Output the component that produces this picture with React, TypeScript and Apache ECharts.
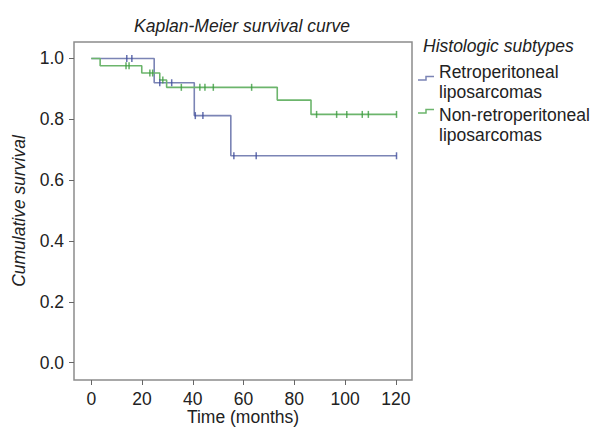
import React, { useEffect, useRef } from "react";
import * as echarts from "echarts";

const xTicks = [0, 20, 40, 60, 80, 100, 120];
const yTicks = [0, 0.2, 0.4, 0.6, 0.8, 1.0];

// Kaplan-Meier step points [time, survival] (drop happens at time)
const retroCurve: [number, number][] = [
  [0, 1.0],
  [24.8, 0.92],
  [40.6, 0.812],
  [55.0, 0.68],
  [120.3, 0.68],
];
const retroCensor: [number, number][] = [
  [14, 1.0], [16, 1.0],
  [27, 0.92], [31.7, 0.92],
  [41, 0.812], [44, 0.812],
  [56.2, 0.68], [65, 0.68], [120.3, 0.68],
];

const nonRetroCurve: [number, number][] = [
  [0, 1.0],
  [3.5, 0.976],
  [19.9, 0.952],
  [27, 0.929],
  [29.7, 0.905],
  [73.3, 0.863],
  [86.6, 0.816],
  [120.3, 0.816],
];
const nonRetroCensor: [number, number][] = [
  [13.7, 0.976], [14.9, 0.976],
  [23.1, 0.952], [24.2, 0.952],
  [28.2, 0.929],
  [35.5, 0.905], [42.8, 0.905], [44.8, 0.905], [48.1, 0.905], [63.2, 0.905],
  [88.8, 0.816], [96.7, 0.816], [100.7, 0.816], [106.8, 0.816], [109.2, 0.816], [120.3, 0.816],
];

const seriesNames = ["Retroperitoneal\nliposarcomas", "Non-retroperitoneal\nliposarcomas"];
const lineColors = ["#7b84b5", "#6cb56c"];
const markColors = ["#3f4c9c", "#3c9c40"];

const FONT = "Liberation Sans, Arial, Helvetica, sans-serif";
const FS = 17.5;

export default function App() {
  const ref = useRef<HTMLDivElement>(null);
  useEffect(() => {
    if (!ref.current) return;
    const chart = echarts.init(ref.current, null, { renderer: "svg" });
    const legendX = 418;
    const textX = 439;
    chart.setOption({
      animation: false,
      backgroundColor: "#ffffff",
      title: {
        text: "Kaplan-Meier survival curve",
        left: 237,
        top: 12,
        textAlign: "center",
        textStyle: { fontFamily: FONT, fontSize: FS, fontStyle: "italic", fontWeight: "normal", color: "#222" },
      },
      grid: {
        left: 74,
        right: 179,
        top: 42,
        bottom: 47,
        containLabel: false,
        outerBoundsMode: "none",
        show: true,
        borderColor: "#8c8c8c",
        borderWidth: 1.5,
        backgroundColor: "transparent",
      },
      xAxis: {
        type: "value",
        min: -6.8,
        max: 126.4,
        name: "Time (months)",
        nameLocation: "middle",
        nameGap: 29,
        nameMoveOverlap: false,
        nameTextStyle: { fontFamily: FONT, fontSize: FS, lineHeight: 16, color: "#222" },
        axisLine: { show: false, onZero: false },
        splitLine: { show: false },
        axisTick: { show: true, inside: false, length: 5, lineStyle: { color: "#666" }, customValues: xTicks },
        axisLabel: { fontFamily: FONT, fontSize: FS, lineHeight: 17, color: "#222", margin: 10, customValues: xTicks, formatter: (v: number) => String(v) },
      },
      yAxis: {
        type: "value",
        min: -0.057,
        max: 1.054,
        name: "Cumulative survival",
        nameLocation: "middle",
        nameGap: 46,
        nameMoveOverlap: false,
        nameTextStyle: { fontFamily: FONT, fontSize: FS, fontStyle: "italic", color: "#222" },
        axisLine: { show: false, onZero: false },
        splitLine: { show: false },
        axisTick: { show: true, inside: false, length: 5, lineStyle: { color: "#666" }, customValues: yTicks },
        axisLabel: { fontFamily: FONT, fontSize: FS, color: "#222", margin: 10, customValues: yTicks, formatter: (v: number) => v.toFixed(1) },
      },
      graphic: [
        { type: "text", left: 423, top: 37, style: { text: "Histologic subtypes", font: `italic ${FS}px ${FONT}`, fill: "#222" } },
        { type: "polyline", shape: { points: [[legendX, 80], [legendX + 8, 80], [legendX + 8, 76.5], [legendX + 16, 76.5]] }, style: { stroke: lineColors[0], lineWidth: 1.5, fill: "none" } },
        { type: "text", left: textX, top: 62, style: { text: seriesNames[0], font: `${FS}px ${FONT}`, fill: "#222", lineHeight: 20 } },
        { type: "polyline", shape: { points: [[legendX, 113], [legendX + 8, 113], [legendX + 8, 109.5], [legendX + 16, 109.5]] }, style: { stroke: lineColors[1], lineWidth: 1.5, fill: "none" } },
        { type: "text", left: textX, top: 105, style: { text: seriesNames[1], font: `${FS}px ${FONT}`, fill: "#222", lineHeight: 20 } },
      ],
      series: [
        {
          name: seriesNames[0],
          type: "line",
          step: "end",
          data: retroCurve,
          showSymbol: false,
          lineStyle: { color: lineColors[0], width: 1.6 },
          z: 2,
        },
        {
          name: seriesNames[1],
          type: "line",
          step: "end",
          data: nonRetroCurve,
          showSymbol: false,
          lineStyle: { color: lineColors[1], width: 1.6 },
          z: 3,
        },
        {
          type: "scatter",
          data: retroCensor,
          symbol: "rect",
          symbolSize: [1.5, 7],
          itemStyle: { color: markColors[0] },
          z: 4,
        },
        {
          type: "scatter",
          data: nonRetroCensor,
          symbol: "rect",
          symbolSize: [1.5, 7],
          itemStyle: { color: markColors[1] },
          z: 5,
        },
      ],
    });
    return () => chart.dispose();
  }, []);
  return <div ref={ref} style={{ width: 591, height: 427, position: "absolute", left: 0, top: 0 }} />;
}
